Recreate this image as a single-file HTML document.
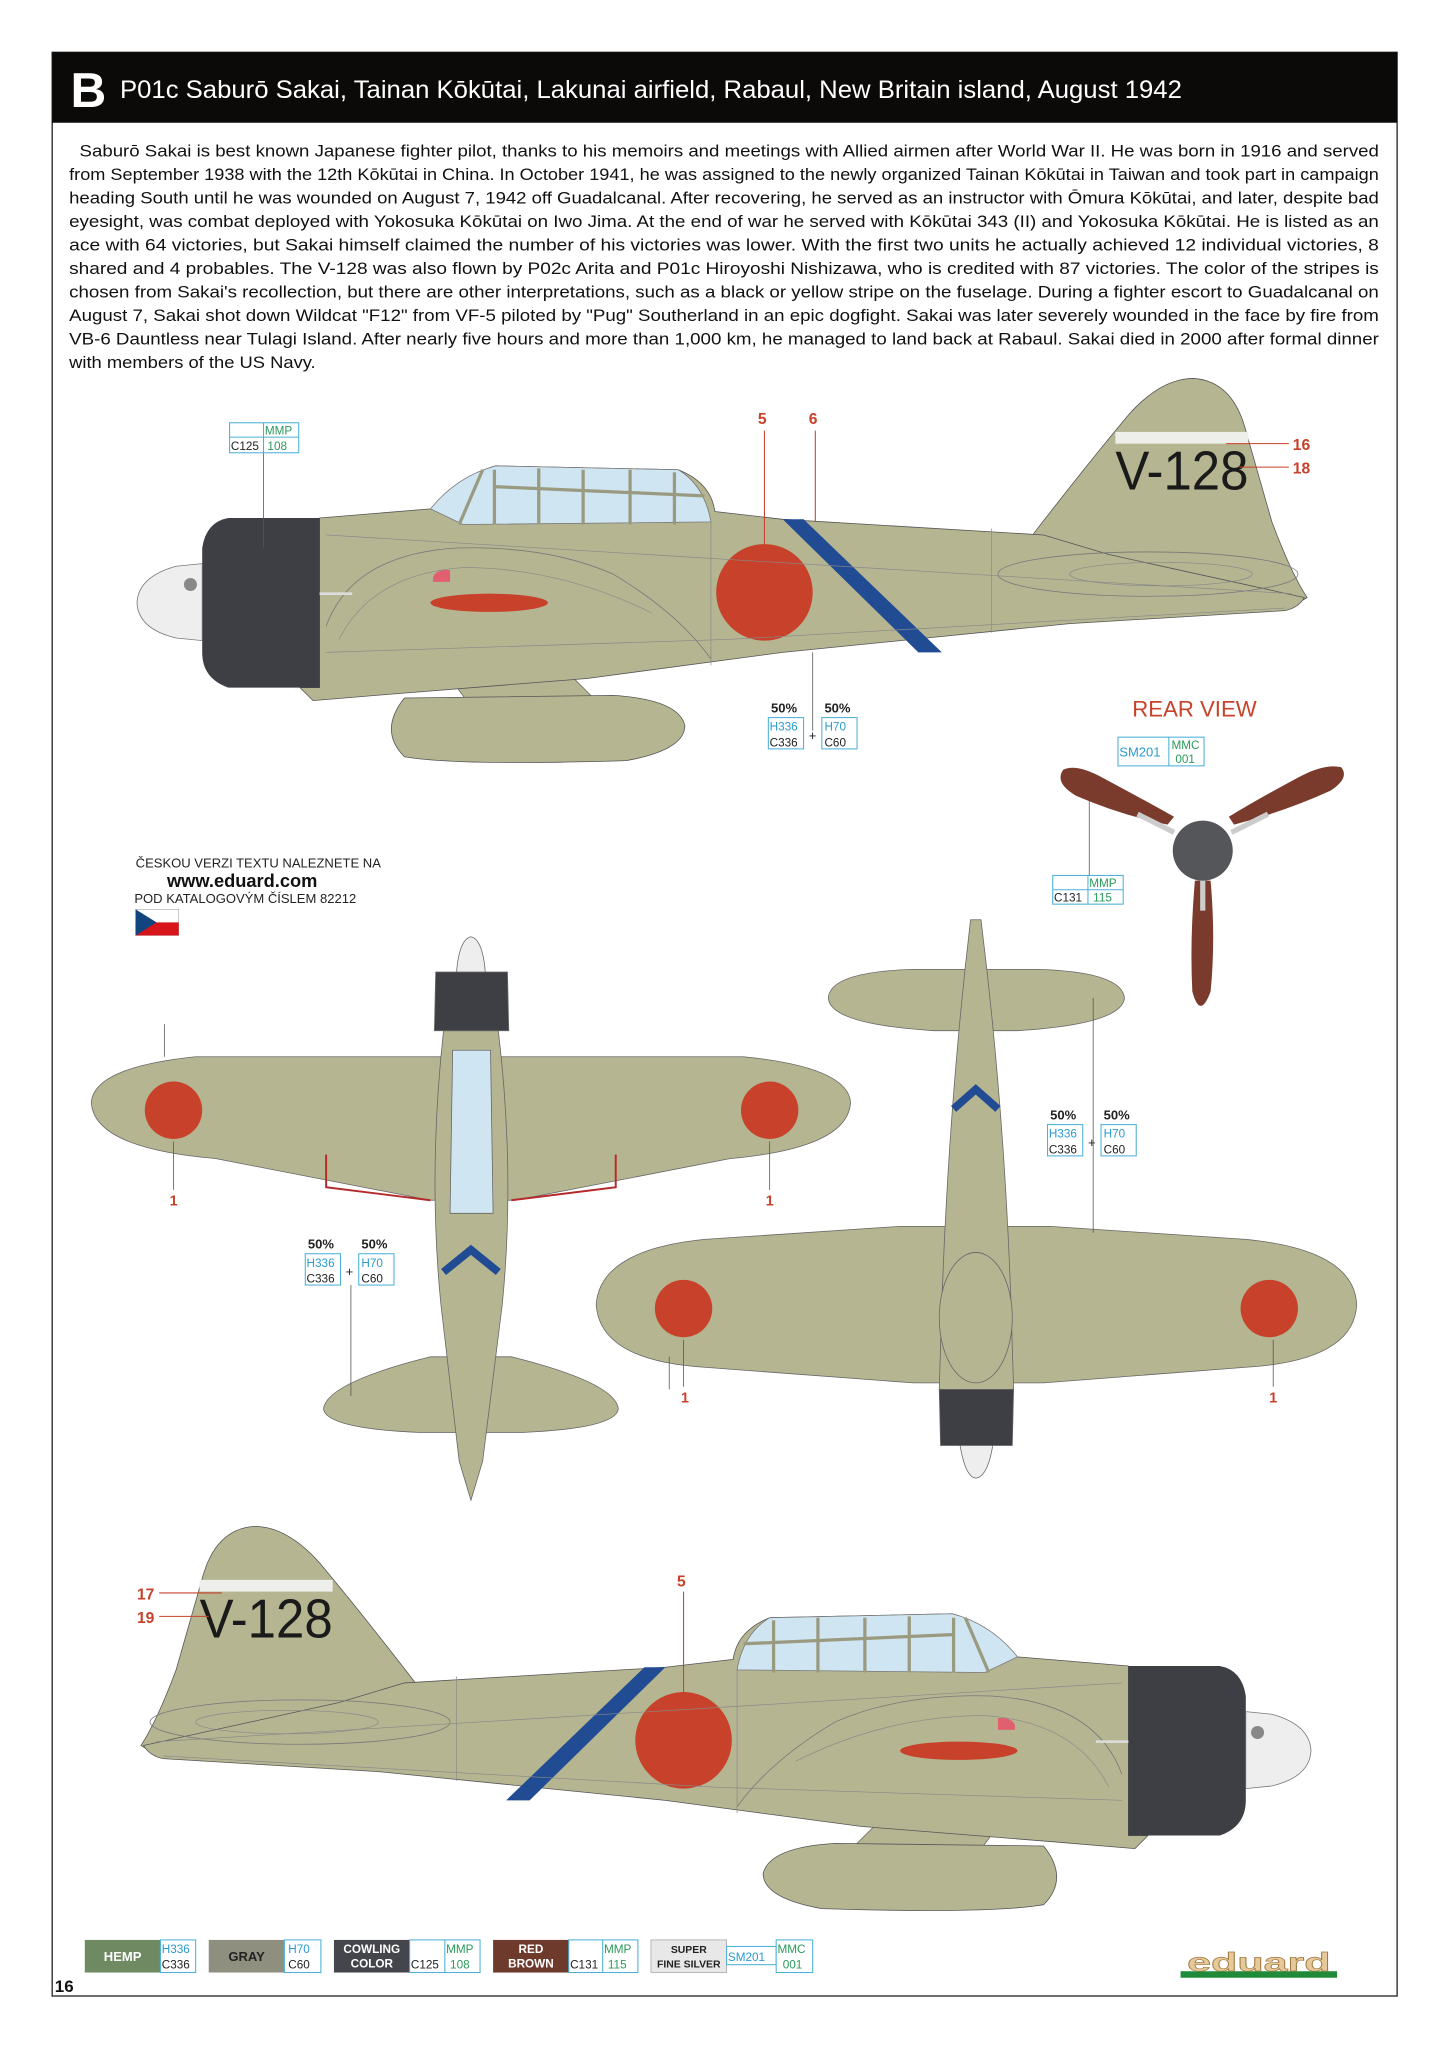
<!DOCTYPE html>
<html><head><meta charset="utf-8"><style>
html,body{margin:0;padding:0;background:#fff}
svg{display:block}
text{font-family:"Liberation Sans",sans-serif}
</style></head><body>
<svg width="1448" height="2047" viewBox="0 0 1110 1569" xmlns="http://www.w3.org/2000/svg">
<defs>
<g id="side">
  <path d="M345,520 L440,520 L455,535 L360,540 Z" fill="#b5b592" stroke="#555" stroke-width="0.5"/>
  <path d="M310,535 Q290,560 310,580 Q350,587 480,583 Q525,575 525,556 Q520,536 470,533 Z" fill="#b5b592" stroke="#555" stroke-width="0.6"/>
  <path d="M790,412 Q830,360 865,318 Q890,290 915,290 Q945,292 955,330 L975,400 Q990,440 1002,458 L990,465 L790,440 Z" fill="#b5b592" stroke="#555" stroke-width="0.6"/>
  <rect x="855" y="331" width="102" height="9" fill="#eeeeea"/>
  <path d="M245,397 L330,390 Q360,362 380,357 L520,360 Q545,370 548,392 L600,398 L800,410 L850,425 L1000,458 Q995,466 985,468 L820,478 L600,500 L450,520 L300,532 L240,537 L230,527 L245,527 Z" fill="#b5b592" stroke="#555" stroke-width="0.6"/>
  <path d="M250,480 Q270,425 350,420 Q420,418 470,440 Q520,470 545,505" fill="none" stroke="#777" stroke-width="0.6"/>
  <path d="M260,490 Q285,440 355,435 Q430,435 500,470" fill="none" stroke="#888" stroke-width="0.5"/>
  <ellipse cx="880" cy="440" rx="115" ry="17" fill="none" stroke="#777" stroke-width="0.6"/>
  <ellipse cx="890" cy="440" rx="70" ry="9" fill="none" stroke="#888" stroke-width="0.5"/>
  <path d="M330,390 Q350,365 380,357 L520,360 Q540,372 545,400 L355,402 Z" fill="#cfe6f2" stroke="#777" stroke-width="0.6"/>
  <g stroke="#9a9a80" stroke-width="2.5" fill="none">
    <path d="M370,360 L352,402"/><path d="M379,360 L379,402"/><path d="M413,359 L413,402"/><path d="M447,360 L447,402"/><path d="M483,360 L483,402"/><path d="M517,362 L517,402"/><path d="M380,373 L540,380"/>
  </g>
  <path d="M175,397 L245,397 L245,527 L175,527 Q155,520 155,500 L155,420 Q158,400 175,397 Z" fill="#3e3f44"/>
  <path d="M155,432 L135,434 Q106,442 105,462 Q106,482 135,489 L155,491 Z" fill="#eeeeee" stroke="#777" stroke-width="0.6"/>
  <circle cx="146" cy="448" r="5" fill="#888"/>
  <path d="M245,455 L270,455" stroke="#ddd" stroke-width="2"/>
  <ellipse cx="375" cy="462" rx="45" ry="7" fill="#c8412a"/>
  <path d="M332,442 Q335,436 345,437 L345,446 L332,446 Z" fill="#e06070"/>
  <circle cx="586" cy="454" r="37" fill="#c8412a"/>
  <path d="M600,398 L616,398 L722,500 L704,500 Z" fill="#214b92"/>
  <g stroke="#888" stroke-width="0.5" fill="none">
    <path d="M250,410 L990,455"/><path d="M250,500 L560,490 L985,466"/><path d="M545,400 L545,510"/><path d="M760,405 L760,485"/>
  </g>
</g>
</defs>

<rect x="40" y="40" width="1031" height="1490" fill="none" stroke="#222" stroke-width="1"/>
<rect x="40" y="40" width="1031" height="54" fill="#0c0a09"/>
<text x="54" y="82" font-size="38" font-weight="bold" fill="#fff">B</text>
<text x="92" y="75" font-size="19" fill="#fff" textLength="814" lengthAdjust="spacingAndGlyphs">P01c Saburō Sakai, Tainan Kōkūtai, Lakunai airfield, Rabaul, New Britain island, August 1942</text>

<g font-size="13" fill="#111">
<text x="61" y="120" textLength="996" lengthAdjust="spacingAndGlyphs">Saburō Sakai is best known Japanese fighter pilot, thanks to his memoirs and meetings with Allied airmen after World War II. He was born in 1916 and served</text>
<text x="53" y="138" textLength="1004" lengthAdjust="spacingAndGlyphs">from September 1938 with the 12th Kōkūtai in China. In October 1941, he was assigned to the newly organized Tainan Kōkūtai in Taiwan and took part in campaign</text>
<text x="53" y="156" textLength="1004" lengthAdjust="spacingAndGlyphs">heading South until he was wounded on August 7, 1942 off Guadalcanal. After recovering, he served as an instructor with Ōmura Kōkūtai, and later, despite bad</text>
<text x="53" y="174" textLength="1004" lengthAdjust="spacingAndGlyphs">eyesight, was combat deployed with Yokosuka Kōkūtai on Iwo Jima. At the end of war he served with Kōkūtai 343 (II) and Yokosuka Kōkūtai. He is listed as an</text>
<text x="53" y="192" textLength="1004" lengthAdjust="spacingAndGlyphs">ace with 64 victories, but Sakai himself claimed the number of his victories was lower. With the first two units he actually achieved 12 individual victories, 8</text>
<text x="53" y="210" textLength="1004" lengthAdjust="spacingAndGlyphs">shared and 4 probables. The V-128 was also flown by P02c Arita and P01c Hiroyoshi Nishizawa, who is credited with 87 victories. The color of the stripes is</text>
<text x="53" y="228" textLength="1004" lengthAdjust="spacingAndGlyphs">chosen from Sakai's recollection, but there are other interpretations, such as a black or yellow stripe on the fuselage. During a fighter escort to Guadalcanal on</text>
<text x="53" y="246" textLength="1004" lengthAdjust="spacingAndGlyphs">August 7, Sakai shot down Wildcat "F12" from VF-5 piloted by "Pug" Southerland in an epic dogfight. Sakai was later severely wounded in the face by fire from</text>
<text x="53" y="264" textLength="1004" lengthAdjust="spacingAndGlyphs">VB-6 Dauntless near Tulagi Island. After nearly five hours and more than 1,000 km, he managed to land back at Rabaul. Sakai died in 2000 after formal dinner</text>
<text x="53" y="282" textLength="189" lengthAdjust="spacingAndGlyphs">with members of the US Navy.</text>
</g>

<use href="#side"/>
<text x="855" y="375" font-size="42" fill="#1a1a1a" textLength="102" lengthAdjust="spacingAndGlyphs">V-128</text>
<g stroke="#c8412a" stroke-width="0.8"><path d="M940,340 L988,340"/><path d="M950,358 L988,358"/><path d="M586,330 L586,420"/><path d="M625,330 L625,400"/></g>
<g fill="#c8412a" font-size="12" font-weight="bold"><text x="991" y="345">16</text><text x="991" y="363">18</text><text x="581" y="325">5</text><text x="620" y="325">6</text></g>
<path d="M202,347 L202,420" stroke="#555" stroke-width="0.6"/>
<path d="M623,500 L623,560" stroke="#555" stroke-width="0.6"/>

<g font-size="10" stroke-width="0.8">
<rect x="176" y="324" width="53" height="23" fill="#fff" stroke="#4bb0d8"/><path d="M176,335 L229,335 M202,324 L202,347" stroke="#4bb0d8"/>
<text x="203" y="333" fill="#2a9a5a" font-size="9">MMP</text><text x="177" y="345" fill="#222" font-size="9">C125</text><text x="205" y="345" fill="#2a9a5a" font-size="9">108</text>
</g>
<g id="mix1">
<text x="591" y="546" font-size="10" font-weight="bold" fill="#222">50%</text><text x="632" y="546" font-size="10" font-weight="bold" fill="#222">50%</text>
<rect x="589" y="550" width="27" height="24" fill="#fff" stroke="#4bb0d8" stroke-width="0.8"/><rect x="630" y="550" width="27" height="24" fill="#fff" stroke="#4bb0d8" stroke-width="0.8"/>
<text x="590" y="560" font-size="9" fill="#2a9ad0">H336</text><text x="590" y="572" font-size="9" fill="#222">C336</text>
<text x="632" y="560" font-size="9" fill="#2a9ad0">H70</text><text x="632" y="572" font-size="9" fill="#222">C60</text>
<text x="620" y="567" font-size="10" fill="#222">+</text>
</g>
<use href="#mix1" x="214" y="312"/>
<use href="#mix1" x="-355" y="411"/>

<text x="868" y="549" font-size="17" fill="#c8412a">REAR VIEW</text>
<rect x="857" y="565" width="66" height="22" fill="#fff" stroke="#4bb0d8" stroke-width="0.8"/><path d="M896,565 L896,587" stroke="#4bb0d8" stroke-width="0.8"/>
<text x="858" y="580" font-size="10" fill="#2a9ad0">SM201</text><text x="898" y="574" font-size="9" fill="#2a9a5a">MMC</text><text x="901" y="585" font-size="9" fill="#2a9a5a">001</text>
<rect x="807" y="671" width="54" height="22" fill="#fff" stroke="#4bb0d8" stroke-width="0.8"/><path d="M834,671 L834,693 M807,682 L861,682" stroke="#4bb0d8" stroke-width="0.8"/>
<text x="835" y="680" font-size="9" fill="#2a9a5a">MMP</text><text x="808" y="691" font-size="9" fill="#222">C131</text><text x="838" y="691" font-size="9" fill="#2a9a5a">115</text>
<path d="M835,610 L835,671" stroke="#555" stroke-width="0.6"/>
<g fill="#7a3b2c">
<path d="M895,632 Q860,625 825,610 Q808,600 815,590 Q825,585 845,596 Q875,612 900,626 Z"/>
<path d="M946,632 Q985,622 1020,606 Q1035,596 1028,588 Q1015,585 995,596 Q965,612 942,626 Z"/>
<path d="M916,675 Q912,720 914,760 Q920,782 928,760 Q932,720 928,675 Z"/>
</g>
<g stroke="#ccc" stroke-width="4"><path d="M900,638 L872,624"/><path d="M944,638 L972,624"/><path d="M922,672 L922,698"/></g>
<circle cx="922" cy="652" r="23" fill="#545659"/>

<text x="104" y="665" font-size="10" fill="#222">ČESKOU VERZI TEXTU NALEZNETE NA</text>
<text x="128" y="680" font-size="14" font-weight="bold" fill="#111">www.eduard.com</text>
<text x="103" y="692" font-size="10" fill="#222">POD KATALOGOVÝM ČÍSLEM 82212</text>
<rect x="104" y="697" width="33" height="20" fill="#fff" stroke="#aaa" stroke-width="0.5"/><rect x="104" y="707" width="33" height="10" fill="#d7141a"/><path d="M104,697 L120,707 L104,717 Z" fill="#11457e"/>

<!-- top view (left) -->
<g stroke="#666" stroke-width="0.6">
<path d="M248,1080 Q250,1060 330,1040 L392,1040 Q472,1060 474,1080 Q472,1095 400,1098 L322,1098 Q250,1095 248,1080 Z" fill="#b5b592"/>
<path d="M70,845 Q72,818 150,810 L570,810 Q650,818 652,845 Q650,880 560,888 L395,920 L330,920 L165,888 Q72,880 70,845 Z" fill="#b5b592"/>
<path d="M340,790 L382,790 Q395,900 385,1000 L370,1120 L361,1150 L352,1120 L338,1000 Q328,900 340,790 Z" fill="#b5b592"/>
<path d="M334,745 L389,745 L390,790 L333,790 Z" fill="#3e3f44"/>
<path d="M350,745 Q352,720 361,718 Q370,720 372,745 Z" fill="#eee"/>
<path d="M347,805 L376,805 L378,930 L345,930 Z" fill="#cfe6f2"/>
</g>
<path d="M340,975 L361,958 L382,975" stroke="#214b92" stroke-width="6" fill="none"/>
<path d="M250,885 L250,910 L330,920 M472,885 L472,910 L392,920" stroke="#b52a2a" stroke-width="1.5" fill="none"/>
<circle cx="133" cy="851" r="22" fill="#c8412a"/><circle cx="590" cy="851" r="22" fill="#c8412a"/>
<path d="M133,875 L133,912 M590,875 L590,912 M269,985 L269,1070 M126,785 L126,810" stroke="#555" stroke-width="0.6"/>
<text x="130" y="924" font-size="11" fill="#c8412a" font-weight="bold">1</text><text x="587" y="924" font-size="11" fill="#c8412a" font-weight="bold">1</text>

<!-- bottom view (right) -->
<g stroke="#666" stroke-width="0.6">
<path d="M635,765 Q636,745 700,743 L796,743 Q860,745 862,765 Q860,785 780,790 L716,790 Q636,785 635,765 Z" fill="#b5b592"/>
<path d="M457,1000 Q460,958 540,950 L690,940 L805,940 L955,950 Q1038,958 1040,1000 Q1038,1043 955,1048 L800,1060 L700,1060 L540,1048 Q460,1043 457,1000 Z" fill="#b5b592"/>
<path d="M744,705 L752,705 Q770,850 775,1000 L777,1065 L720,1065 L722,1000 Q727,850 744,705 Z" fill="#b5b592"/>
<ellipse cx="748" cy="1010" rx="28" ry="50" fill="#b5b592"/>
<path d="M720,1065 L777,1065 L776,1108 L721,1108 Z" fill="#3e3f44"/>
<path d="M736,1108 Q740,1132 748,1133 Q757,1132 761,1108 Z" fill="#eee"/>
</g>
<path d="M731,850 L748,835 L765,850" stroke="#214b92" stroke-width="6" fill="none"/>
<circle cx="524" cy="1003" r="22" fill="#c8412a"/><circle cx="973" cy="1003" r="22" fill="#c8412a"/>
<path d="M524,1027 L524,1063 M976,1027 L976,1063 M838,765 L838,945 M513,1040 L513,1065" stroke="#555" stroke-width="0.6"/>
<text x="522" y="1075" font-size="11" fill="#c8412a" font-weight="bold">1</text><text x="973" y="1075" font-size="11" fill="#c8412a" font-weight="bold">1</text>

<use href="#side" transform="translate(1110,880) scale(-1,1)"/>
<text x="153" y="1255" font-size="42" fill="#1a1a1a" textLength="102" lengthAdjust="spacingAndGlyphs">V-128</text>
<g stroke="#c8412a" stroke-width="0.8"><path d="M122,1221 L170,1221"/><path d="M122,1239 L160,1239"/><path d="M524,1220 L524,1300"/></g>
<g fill="#c8412a" font-size="12" font-weight="bold"><text x="105" y="1226">17</text><text x="105" y="1244">19</text><text x="519" y="1216">5</text></g>

<g font-size="10" font-weight="bold">
<rect x="65" y="1487" width="58" height="25" fill="#6f8a63"/><text x="94" y="1503" fill="#fff" text-anchor="middle">HEMP</text>
<rect x="123" y="1487" width="27" height="25" fill="#fff" stroke="#4bb0d8" stroke-width="0.8"/><text x="124" y="1497" font-size="9" font-weight="normal" fill="#2a9ad0">H336</text><text x="124" y="1509" font-size="9" font-weight="normal" fill="#222">C336</text>
<rect x="160" y="1487" width="58" height="25" fill="#8f8f80"/><text x="189" y="1503" fill="#222" text-anchor="middle">GRAY</text>
<rect x="218" y="1487" width="28" height="25" fill="#fff" stroke="#4bb0d8" stroke-width="0.8"/><text x="221" y="1497" font-size="9" font-weight="normal" fill="#2a9ad0">H70</text><text x="221" y="1509" font-size="9" font-weight="normal" fill="#222">C60</text>
<rect x="256" y="1487" width="58" height="25" fill="#45464b"/><text x="285" y="1497" fill="#fff" text-anchor="middle" font-size="9">COWLING</text><text x="285" y="1508" fill="#fff" text-anchor="middle" font-size="9">COLOR</text>
<rect x="314" y="1487" width="54" height="25" fill="#fff" stroke="#4bb0d8" stroke-width="0.8"/><path d="M341,1487 L341,1512" stroke="#4bb0d8" stroke-width="0.8"/><text x="342" y="1497" font-size="9" font-weight="normal" fill="#2a9a5a">MMP</text><text x="315" y="1509" font-size="9" font-weight="normal" fill="#222">C125</text><text x="345" y="1509" font-size="9" font-weight="normal" fill="#2a9a5a">108</text>
<rect x="378" y="1487" width="58" height="25" fill="#6e3a2c"/><text x="407" y="1497" fill="#fff" text-anchor="middle" font-size="9">RED</text><text x="407" y="1508" fill="#fff" text-anchor="middle" font-size="9">BROWN</text>
<rect x="436" y="1487" width="53" height="25" fill="#fff" stroke="#4bb0d8" stroke-width="0.8"/><path d="M462,1487 L462,1512" stroke="#4bb0d8" stroke-width="0.8"/><text x="463" y="1497" font-size="9" font-weight="normal" fill="#2a9a5a">MMP</text><text x="437" y="1509" font-size="9" font-weight="normal" fill="#222">C131</text><text x="466" y="1509" font-size="9" font-weight="normal" fill="#2a9a5a">115</text>
<rect x="499" y="1487" width="58" height="25" fill="#e8e8e8" stroke="#999" stroke-width="0.5"/><text x="528" y="1497" fill="#222" text-anchor="middle" font-size="8">SUPER</text><text x="528" y="1508" fill="#222" text-anchor="middle" font-size="8">FINE SILVER</text>
<rect x="557" y="1492" width="38" height="14" fill="#fff" stroke="#4bb0d8" stroke-width="0.8"/><text x="558" y="1503" font-size="9" font-weight="normal" fill="#2a9ad0">SM201</text>
<rect x="595" y="1487" width="28" height="25" fill="#fff" stroke="#4bb0d8" stroke-width="0.8"/><text x="596" y="1497" font-size="9" font-weight="normal" fill="#2a9a5a">MMC</text><text x="600" y="1509" font-size="9" font-weight="normal" fill="#2a9a5a">001</text>
</g>
<text x="42" y="1527" font-size="13" font-weight="bold" fill="#111">16</text>
<rect x="905" y="1511" width="120" height="5" fill="#1f8a3a"/>
<text x="910" y="1511" font-size="20" font-weight="bold" fill="#e6c89a" stroke="#a07a40" stroke-width="0.5" textLength="110" lengthAdjust="spacingAndGlyphs">eduard</text>
</svg>
</body></html>
